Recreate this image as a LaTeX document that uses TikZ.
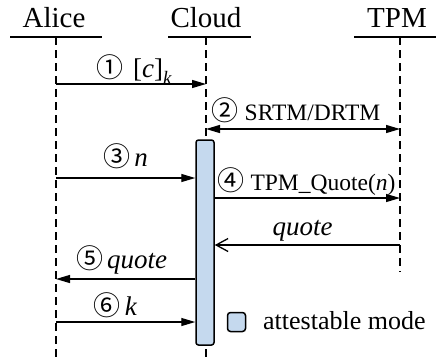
\documentclass[tikz,border=0pt]{standalone}
\usepackage{fontspec}
\setmainfont{Liberation Serif}
\newfontfamily\circfont{Noto Sans CJK SC}
\usetikzlibrary{arrows.meta}
\definecolor{actblue}{RGB}{197,217,238}
\newcommand{\circd}[1]{\makebox[23pt][c]{\circfont\fontsize{27}{30}\selectfont #1}}
\begin{document}
\begin{tikzpicture}[x=1pt,y=-1pt,
  hdr/.style={anchor=base,inner sep=0pt,font=\fontsize{29}{32}\selectfont},
  leglbl/.style={anchor=base west,inner sep=0pt,font=\fontsize{26}{30}\selectfont},
  lbl/.style={anchor=base,inner sep=0pt,font=\fontsize{27}{32}\selectfont},
  slbl/.style={anchor=base,inner sep=0pt,font=\fontsize{23.5}{27}\selectfont},
  life/.style={line width=1.3pt,dash pattern=on 8pt off 5pt},
  hline/.style={line width=1.6pt},
  msg/.style={line width=1.3pt,-{Triangle[length=14pt,width=8pt]}},
  dmsg/.style={line width=1.3pt,{Triangle[length=14pt,width=8pt]}-{Triangle[length=14pt,width=8pt]}},
  ret/.style={line width=1.3pt,-{Straight Barb[length=12pt,width=13pt,line width=1.3pt]}},
  actbox/.style={draw,line width=1.5pt,fill=actblue,rounded corners=2.5pt,inner sep=0pt}]
\useasboundingbox (0,0) rectangle (436,360);
% headers
\node[hdr] (alice) at (54,27) {Alice};
\node[hdr] (cloud) at (206,27) {Cloud};
\node[hdr] (tpm) at (397,27) {TPM};
\coordinate (ahl) at (10,37); \coordinate (ahr) at (102,37);
\coordinate (chl) at (168,37); \coordinate (chr) at (251,37);
\coordinate (thl) at (354,37); \coordinate (thr) at (436,37);
\draw[hline] (ahl) -- (ahr);
\draw[hline] (chl) -- (chr);
\draw[hline] (thl) -- (thr);
% lifelines
\coordinate (aT) at (56,37); \coordinate (aB) at (56,360);
\coordinate (cT) at (206,37); \coordinate (cB) at (206,360);
\coordinate (tT) at (400,37); \coordinate (tB) at (400,272);
\draw[life] (aT) -- (aB);
\draw[life] (cT) -- (cB);
\draw[life] (tT) -- (tB);
% activation box
\node[actbox,minimum width=18pt,minimum height=205pt] (act) at (205,242.5) {};
% message 1
\coordinate (a1) at (56,84); \coordinate (c1) at (206,84);
\draw[msg] (a1) -- (c1);
\node[lbl] (l1) at (135,77) {\circd{①}\hspace{12pt}[\textit{c}]\raisebox{-7pt}{\fontsize{19}{22}\selectfont\textit{k}}};
% message 2
\coordinate (c2) at (206,129); \coordinate (t2) at (400,129);
\draw[dmsg] (c2) -- (t2);
\node[slbl] (l2) at (297,120) {\circd{②}\hspace{8pt}SRTM/DRTM};
% message 3
\coordinate (a3) at (56,178);
\draw[msg] (a3) -- (a3 -| act.west);
\node[lbl] (l3) at (126.5,166.5) {\circd{③}\hspace{6pt}\textit{n}};
% message 4
\coordinate (t4) at (400,198);
\draw[msg] (act.east |- t4) -- (t4);
\node[slbl] (l4) at (307.5,190) {\circd{④}\hspace{8pt}TPM\_Quote(\textit{n})};
% return quote
\coordinate (t5) at (400,245);
\draw[ret] (t5) -- (t5 -| act.east);
\node[lbl] (l5) at (302.5,235) {\textit{quote}};
% message 5
\coordinate (a6) at (56,279);
\draw[msg] (a6 -| act.west) -- (a6);
\node[lbl] (l6) at (122.5,268) {\circd{⑤}\hspace{6pt}\textit{quote}};
% message 6
\coordinate (a7) at (56,322);
\draw[msg] (a7) -- (a7 -| act.west);
\node[lbl] (l7) at (116.5,315) {\circd{⑥}\hspace{6pt}\textit{k}};
% legend
\node[actbox,rounded corners=3pt,minimum width=18pt,minimum height=19pt] (leg) at (236.5,322) {};
\node[leglbl] (legt) at (263,329) {attestable mode};
\end{tikzpicture}
\end{document}
